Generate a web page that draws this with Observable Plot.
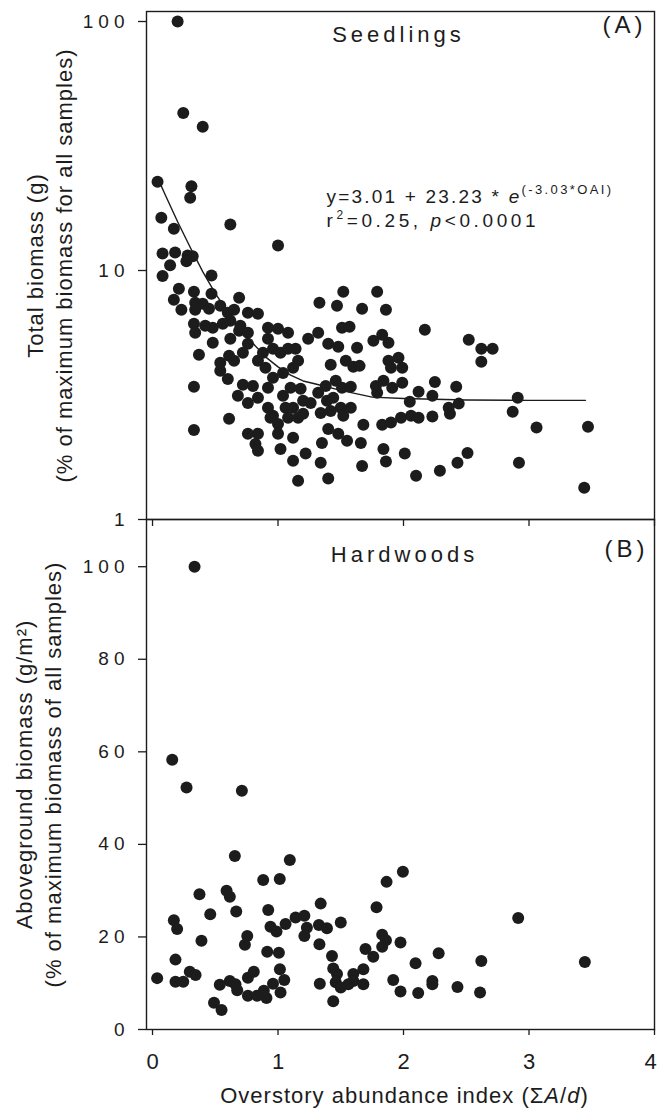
<!DOCTYPE html>
<html><head><meta charset="utf-8">
<script src="https://cdn.jsdelivr.net/npm/d3@7"></script>
<script src="https://cdn.jsdelivr.net/npm/@observablehq/plot@0.6"></script>
<style>
html,body{margin:0;padding:0;background:#fff;}
#chart{position:relative;width:659px;height:1110px;overflow:hidden;}
#chart svg{position:absolute;left:0;}
</style></head>
<body><div id="chart"></div>
<script>
// ---------- Panel A: seedlings (log scale) ----------
const seedOAI = [
 0.20,0.245,0.40,0.04,0.31,0.30,0.07,0.62,0.17,1.00,0.08,0.18,0.28,0.32,0.27,0.14,0.08,0.47,
 0.21,0.33,0.47,0.17,0.23,0.34,0.40,0.34,0.45,0.54,0.60,0.65,0.69,0.76,0.84,
 0.33,0.34,0.42,0.48,0.56,0.62,0.70,0.69,0.76,0.62,0.48,0.37,0.76,0.72,0.65,0.54,0.61,
 0.92,1.00,1.08,0.92,0.84,0.90,0.88,0.96,1.02,1.08,1.14,1.24,1.32,1.33,1.40,
 0.54,0.60,0.72,0.80,0.92,0.33,0.68,0.76,0.84,0.92,0.96,1.04,1.06,1.12,1.20,1.26,1.32,1.38,
 0.96,1.04,1.12,1.16,1.10,1.18,
 0.94,1.00,1.08,1.16,1.20,1.34,0.61,0.33,0.76,0.84,0.82,0.84,1.00,1.12,1.02,1.12,1.22,1.35,1.34,1.16,1.40,1.40,
 1.52,1.79,1.47,1.67,1.86,1.51,1.57,1.48,1.63,1.76,1.83,1.88,2.17,2.52,2.62,2.71,2.62,
 1.42,1.54,1.60,1.65,1.88,1.96,1.99,1.90,
 1.46,1.51,1.58,1.78,1.84,1.91,1.99,1.79,2.12,2.25,2.23,2.42,2.05,2.36,2.44,2.37,2.91,2.87,
 1.39,1.44,1.50,1.58,1.42,1.52,1.68,1.83,1.90,1.98,2.06,2.12,2.23,
 1.48,1.55,1.66,3.06,3.47,1.84,1.86,2.01,1.67,2.10,2.29,2.43,2.51,2.92,3.44
];
const seedBiomass = [
 100,42.9,37.8,22.7,21.8,19.6,16.3,15.3,14.7,12.6,11.7,11.8,11.5,11.4,10.9,10.5,9.5,9.55,
 8.44,8.21,8.06,7.63,6.95,7.42,7.35,6.95,7.02,7.22,6.76,6.95,7.77,6.76,6.70,
 6.11,5.62,6.00,5.89,6.11,6.28,6.00,5.73,5.62,5.32,5.13,4.59,5.08,4.67,4.34,4.26,4.55,
 5.89,5.83,5.62,5.32,4.34,4.07,4.67,4.85,4.67,4.85,4.85,5.32,5.62,7.42,5.08,
 3.96,3.67,3.48,3.44,3.38,3.41,3.14,2.94,3.08,2.81,2.61,3.14,2.81,2.81,3.00,2.94,3.23,3.44,
 3.71,3.88,4.07,4.34,3.38,3.35,
 2.56,2.42,2.56,2.56,2.66,2.68,2.54,2.29,2.21,2.21,2.01,1.89,2.21,2.13,1.92,1.72,1.84,2.03,1.69,1.43,1.46,2.31,
 8.21,8.21,7.22,7.02,6.95,5.89,5.94,4.94,4.89,5.22,5.52,5.13,5.78,5.27,4.85,4.85,4.30,
 4.18,4.34,4.11,4.14,4.34,4.46,4.07,4.07,
 3.61,3.38,3.41,3.44,3.61,3.38,3.54,3.23,3.26,3.57,3.14,3.41,2.97,2.81,2.92,2.66,3.08,2.71,
 3.00,3.08,2.81,2.81,2.73,2.61,2.40,2.40,2.45,2.56,2.61,2.56,2.59,
 2.21,2.07,2.03,2.34,2.36,1.92,1.71,1.84,1.64,1.50,1.57,1.69,1.85,1.69,1.34
];
// fitted curve as drawn in the figure
const fitOAI     = [0.04,0.1,0.2,0.3,0.4,0.5,0.6,0.7,0.8,0.9,1.0,1.1,1.2,1.3,1.5,1.75,2.0,2.5,3.0,3.45];
const fitBiomass = [23.6,20.2,15.7,12.4,9.9,8.1,6.8,5.8,5.1,4.5,4.1,3.8,3.6,3.5,3.3,3.1,3.06,3.02,3.01,3.01];

// ---------- Panel B: hardwoods (linear) ----------
const hardOAI = [
 0.335,0.157,0.271,0.712,0.656,1.094,1.014,0.882,0.374,0.59,0.616,0.46,0.667,1.34,0.17,
 0.196,0.922,0.94,0.988,1.06,1.14,1.21,1.23,1.21,1.326,1.39,1.33,0.39,0.755,0.736,
 0.914,1.007,0.183,0.037,0.183,0.245,0.297,0.343,0.536,0.616,0.661,0.675,0.76,0.807,0.76,
 0.834,0.908,0.887,0.96,1.05,1.015,1.02,0.49,0.55,1.333,1.43,1.44,1.44,1.50,1.995,
 1.865,2.914,1.785,1.83,1.86,1.83,1.976,1.697,1.759,2.28,2.096,2.62,3.445,1.47,1.46,
 1.50,1.56,1.60,1.60,1.68,1.68,1.918,1.976,2.117,2.23,2.23,2.43,2.61
];
const hardBiomass = [
 100,58.3,52.3,51.6,37.5,36.6,32.5,32.3,29.2,30.0,28.7,24.9,25.5,27.2,23.6,
 21.7,25.8,22.2,21.2,22.8,24.2,24.6,22.0,20.2,22.6,21.9,18.4,19.2,20.2,18.3,
 16.8,16.6,15.1,11.1,10.3,10.3,12.5,11.8,9.65,10.5,9.8,8.5,11.2,12.5,7.3,
 7.3,6.8,8.4,9.9,10.7,13.0,8.0,5.8,4.2,9.9,15.9,13.2,6.1,23.1,34.1,
 31.9,24.1,26.4,20.5,19.3,17.9,18.8,17.4,15.7,16.5,14.3,14.8,14.6,12.0,10.2,
 9.1,9.8,12.0,10.5,13.0,9.8,10.7,8.2,7.9,10.5,9.8,9.2,8.0
];

// ---------- ticks & texts ----------
const yTicksA = [1, 10, 100];
const yTicksB = [0, 20, 40, 60, 80, 100];
const xTicks = [0, 1, 2, 3, 4];
const panelTitles = ["Seedlings", "Hardwoods"];
const panelTags = ["(A)", "(B)"];
const yTitleA = ["Total biomass (g)", "(% of maximum biomass for all samples)"];
const yTitleB = ["Aboveground biomass (g/m\u00B2)", "(% of maximum biomass of all samples)"];
const xTitleParts = ["Overstory abundance index (", "\u03A3", "A", "/", "d", ")"];
const eqParts = ["y=3.01 + 23.23 * ", "e", "(-3.03*OAI)"];
const statParts = ["r", "2", "=0.25, ", "p", "<0.0001"];

const FONT = "'Liberation Sans', Arial, Helvetica, sans-serif";
const INK = "#1c1c1c";
const X_DOMAIN = [-0.048, 4];

const seedlings = seedOAI.map((x, i) => ({oai: x, biomass: seedBiomass[i]}));
const fitA = fitOAI.map((x, i) => ({oai: x, biomass: fitBiomass[i]}));
const hardwoods = hardOAI.map((x, i) => ({oai: x, biomass: hardBiomass[i]}));

const common = {
  width: 659, marginLeft: 146, marginRight: 5,
  style: {background: "transparent", overflow: "visible", fontFamily: FONT, color: INK, letterSpacing: "1px"}
};

const plotA = Plot.plot({
  ...common, height: 519, marginTop: 11, marginBottom: 0,
  x: {domain: X_DOMAIN, axis: null},
  y: {type: "log", domain: [1, 109.7]},
  marks: [
    Plot.axisY({ticks: yTicksA, tickFormat: d => `${d}`, tickSize: 8, tickPadding: 9, fontSize: 19, label: null, strokeWidth: 1.3}),
    Plot.line(fitA, {x: "oai", y: "biomass", stroke: INK, strokeWidth: 1.4}),
    Plot.dot(seedlings, {x: "oai", y: "biomass", r: 6, fill: INK}),
    Plot.frame({stroke: INK, strokeWidth: 1.4}),
    Plot.text([panelTitles[0]], {text: d => d, frameAnchor: "top", textAnchor: "middle", lineAnchor: "top", dx: -2, dy: 15, fontSize: 22}),
    Plot.text([panelTags[0]], {text: d => d, frameAnchor: "top-right", textAnchor: "end", lineAnchor: "top", dx: -8, dy: 4, fontSize: 24}),
    Plot.text([eqParts.join("")], {text: d => d, frameAnchor: "top-left", textAnchor: "start", lineAnchor: "top", dx: 180, dy: 178, fontSize: 19}),
    Plot.text([statParts.join("")], {text: d => d, frameAnchor: "top-left", textAnchor: "start", lineAnchor: "top", dx: 180, dy: 202, fontSize: 19}),
    Plot.text([yTitleA.join("\n")], {text: d => d, frameAnchor: "left", rotate: -90, textAnchor: "middle", lineAnchor: "middle", dx: -98, fontSize: 22, lineHeight: 1.32})
  ]
});

const plotB = Plot.plot({
  ...common, height: 591, marginTop: 0, marginBottom: 81,
  x: {domain: X_DOMAIN},
  y: {domain: [0, 110.2]},
  marks: [
    Plot.axisY({ticks: yTicksB, tickFormat: d => `${d}`, tickSize: 8, tickPadding: 9, fontSize: 19, label: null, strokeWidth: 1.3}),
    Plot.axisX({anchor: "bottom", ticks: xTicks, tickFormat: d => `${d}`, tickSize: 6, tickPadding: 18, fontSize: 22, label: null, strokeWidth: 1.3}),
    Plot.axisX({anchor: "top", ticks: xTicks, tickSize: -6, tickFormat: () => "", label: null, strokeWidth: 1.3}),
    Plot.dot(hardwoods, {x: "oai", y: "biomass", r: 6, fill: INK}),
    Plot.frame({stroke: INK, strokeWidth: 1.4}),
    Plot.text([panelTitles[1]], {text: d => d, frameAnchor: "top", textAnchor: "middle", lineAnchor: "top", dx: 4, dy: 27, fontSize: 22}),
    Plot.text([panelTags[1]], {text: d => d, frameAnchor: "top-right", textAnchor: "end", lineAnchor: "top", dx: -6, dy: 20, fontSize: 24}),
    Plot.text([yTitleB.join("\n")], {text: d => d, frameAnchor: "left", rotate: -90, textAnchor: "middle", lineAnchor: "middle", dx: -109, fontSize: 22, lineHeight: 1.32}),
    Plot.text([xTitleParts.join("")], {text: d => d, frameAnchor: "bottom", textAnchor: "middle", lineAnchor: "middle", dx: 4, dy: 66, fontSize: 22})
  ]
});

// ---------- rich text (italics / superscripts) & spacing ----------
function each(svg, content, fn) {
  d3.select(svg).selectAll("text").filter(function () { return this.textContent === content; }).each(fn);
}
function rich(svg, parts, spec, spacing) {
  each(svg, parts.join(""), function () {
    const t = d3.select(this);
    t.text(null);
    if (spacing != null) t.style("letter-spacing", spacing + "px");
    parts.forEach((p, i) => {
      const s = t.append("tspan").text(p);
      const o = spec[i] || {};
      if (o.italic) s.attr("font-style", "italic");
      if (o.size) s.attr("font-size", o.size);
      if (o.dy) s.attr("dy", o.dy);
      if (o.ls != null) s.style("letter-spacing", o.ls + "px");
    });
  });
}
rich(plotA, eqParts, [{}, {italic: true}, {size: 13, dy: -9, ls: 2.4}], 2.2);
rich(plotA, statParts, [{}, {size: 12, dy: -8}, {dy: 8}, {italic: true}, {}], 3.6);
rich(plotB, xTitleParts, [{}, {}, {italic: true}, {}, {italic: true}, {}], 1);
each(plotA, panelTitles[0], function () { this.style.letterSpacing = "4px"; });
each(plotB, panelTitles[1], function () { this.style.letterSpacing = "4px"; });
each(plotA, panelTags[0], function () { this.style.letterSpacing = "4px"; });
each(plotB, panelTags[1], function () { this.style.letterSpacing = "4px"; });
for (const svg of [plotA, plotB]) {
  d3.select(svg).selectAll('g[aria-label="y-axis tick label"] text').style("letter-spacing", "5px");
}
// x tick labels: no extra spacing; keep the last label ("4") inside the picture edge
d3.select(plotB).selectAll('g[aria-label="x-axis tick label"] text')
  .style("letter-spacing", "0px")
  .filter(function () { return this.textContent === `${xTicks[xTicks.length - 1]}`; })
  .attr("dx", -4);

const chart = document.getElementById("chart");
plotA.style.top = "0px";
plotB.style.top = "519px";
chart.appendChild(plotA);
chart.appendChild(plotB);
</script>
</body></html>
